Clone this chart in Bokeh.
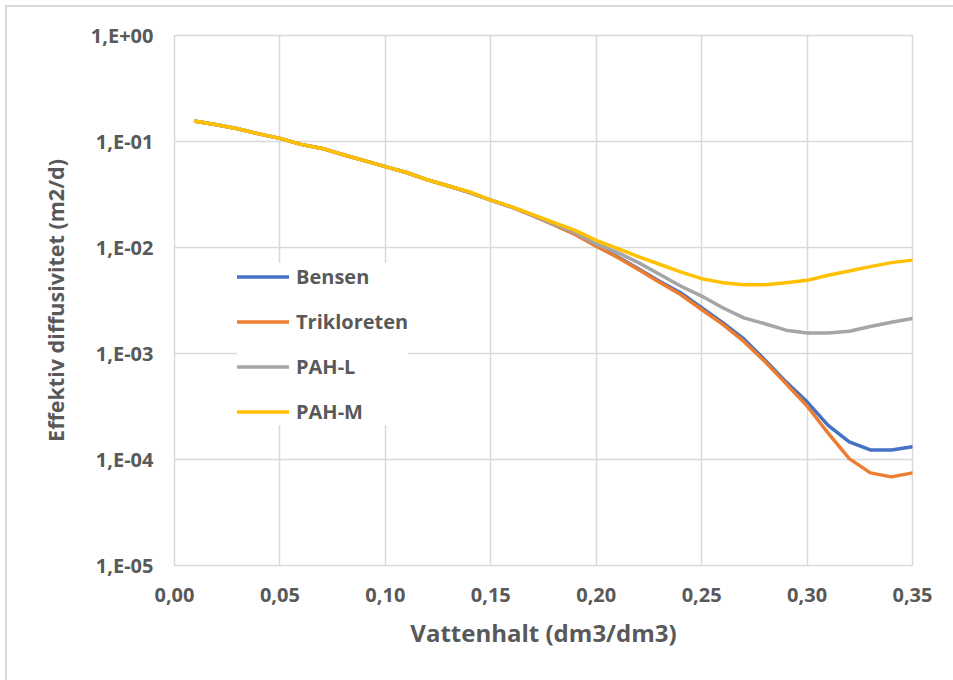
from bokeh.plotting import figure
from bokeh.models import (Range1d, FixedTicker, CustomJSTickFormatter, Legend, LegendItem,
                          InlineStyleSheet)
from bokeh.embed import file_html
from bokeh.resources import INLINE

# ---- data ----
x_vals = [0.01, 0.02, 0.03, 0.04, 0.05, 0.06, 0.07, 0.08, 0.09, 0.10,
          0.11, 0.12, 0.13, 0.14, 0.15, 0.16, 0.17, 0.18, 0.19, 0.20,
          0.21, 0.22, 0.23, 0.24, 0.25, 0.26, 0.27, 0.28, 0.29, 0.30,
          0.31, 0.32, 0.33, 0.34, 0.35]

bensen = [0.155, 0.144, 0.132, 0.118, 0.107, 0.094, 0.086, 0.075, 0.066, 0.058,
          0.051, 0.0435, 0.038, 0.033, 0.028, 0.0240, 0.0200, 0.0164, 0.0134, 0.0104,
          0.0082, 0.0063, 0.0048, 0.00374, 0.0027, 0.00195, 0.00137, 0.00087, 0.00054, 0.00035,
          0.00021, 0.000147, 0.000123, 0.000123, 0.000132]

trikloreten = [0.155, 0.144, 0.132, 0.118, 0.107, 0.094, 0.086, 0.075, 0.066, 0.058,
               0.051, 0.0435, 0.038, 0.033, 0.028, 0.0240, 0.0200, 0.0163, 0.0133, 0.0103,
               0.0081, 0.0062, 0.0047, 0.0036, 0.0026, 0.00188, 0.0013, 0.00084, 0.00052, 0.00032,
               0.000177, 0.000102, 0.0000748, 0.0000686, 0.0000748]

pah_l = [0.155, 0.144, 0.132, 0.118, 0.107, 0.094, 0.086, 0.075, 0.066, 0.058,
         0.051, 0.0435, 0.038, 0.033, 0.028, 0.0240, 0.0201, 0.0166, 0.0138, 0.0108,
         0.0090, 0.0072, 0.0056, 0.00433, 0.00348, 0.0027, 0.00217, 0.00191, 0.00166, 0.00156,
         0.00156, 0.00162, 0.0018, 0.00197, 0.00214]

pah_m = [0.155, 0.144, 0.132, 0.118, 0.107, 0.094, 0.086, 0.075, 0.066, 0.058,
         0.051, 0.0435, 0.038, 0.0335, 0.028, 0.0242, 0.0204, 0.0172, 0.0145, 0.0117,
         0.0098, 0.0082, 0.00695, 0.00588, 0.00508, 0.00466, 0.00446, 0.00446, 0.00466, 0.0049,
         0.00547, 0.0060, 0.0066, 0.0072, 0.0076]

series_names = ["Bensen", "Trikloreten", "PAH-L", "PAH-M"]
series_colors = ["#4472C4", "#ED7D31", "#A5A5A5", "#FFC000"]
series_values = [bensen, trikloreten, pah_l, pah_m]

x_ticks = [0.0, 0.05, 0.10, 0.15, 0.20, 0.25, 0.30, 0.35]
y_ticks = [1e-5, 1e-4, 1e-3, 1e-2, 1e-1, 1.0]

x_title = "Vattenhalt (dm3/dm3)"
y_title = "Effektiv diffusivitet (m2/d)"

FONT = "Open Sans"
TXT = "#595959"
GRID = "#D9D9D9"

p = figure(width=953, height=680, output_backend="svg", toolbar_location=None,
           y_axis_type="log",
           x_range=Range1d(0, 0.35), y_range=Range1d(1e-5, 1.0),
           min_border_left=174, min_border_right=41, min_border_top=35, min_border_bottom=115)

p.background_fill_color = "white"
p.border_fill_color = "white"
p.outline_line_color = GRID
p.outline_line_width = 1.5

renderers = []
for name, col, vals in zip(series_names, series_colors, series_values):
    r = p.line(x_vals, vals, line_color=col, line_width=3.5, line_join="round", line_cap="round")
    renderers.append((name, r))

# axes
p.xaxis.ticker = FixedTicker(ticks=x_ticks)
p.yaxis.ticker = FixedTicker(ticks=y_ticks)
p.xaxis.formatter = CustomJSTickFormatter(code="return tick.toFixed(2).replace('.', ',');")
p.yaxis.formatter = CustomJSTickFormatter(code="""
const e = Math.round(Math.log10(tick));
const s = e < 0 ? '-' : '+';
return '1,E' + s + String(Math.abs(e)).padStart(2, '0');
""")
for ax in (p.xaxis, p.yaxis):
    ax.axis_line_color = None
    ax.major_tick_line_color = None
    ax.minor_tick_line_color = None
    ax.major_tick_out = 0
    ax.major_tick_in = 0
    ax.minor_tick_out = 0
    ax.minor_tick_in = 0
    ax.major_label_text_font = FONT
    ax.major_label_text_font_style = "bold"
    ax.major_label_text_font_size = "20px"
    ax.major_label_text_color = TXT
    ax.axis_label_text_font = FONT
    ax.axis_label_text_font_style = "bold"
    ax.axis_label_text_color = TXT

p.xaxis.axis_label_text_font_size = "24px"
p.yaxis.axis_label_text_font_size = "21.5px"
p.xaxis.axis_label = x_title
p.yaxis.axis_label = y_title
p.xaxis.major_label_standoff = 22
p.yaxis.major_label_standoff = 21
p.xaxis.axis_label_standoff = 11
p.yaxis.axis_label_standoff = 18

p.xgrid.grid_line_color = GRID
p.ygrid.grid_line_color = GRID
p.xgrid.grid_line_width = 1.5
p.ygrid.grid_line_width = 1.5
p.xgrid.ticker = FixedTicker(ticks=x_ticks)
p.ygrid.ticker = FixedTicker(ticks=y_ticks)

legend = Legend(items=[LegendItem(label=n, renderers=[r]) for n, r in renderers],
                location=(63, 140))
legend.background_fill_color = "white"
legend.background_fill_alpha = 1.0
legend.border_line_color = None
legend.label_text_font = FONT
legend.label_text_font_style = "bold"
legend.label_text_font_size = "20px"
legend.label_text_color = TXT
legend.glyph_width = 52
legend.glyph_height = 27
legend.label_height = 27
legend.spacing = 18
legend.padding = 13
legend.margin = 0
legend.label_standoff = 7
p.add_layout(legend, "center")

p.stylesheets = [InlineStyleSheet(css="""
:host { position: relative; overflow: hidden; }
:host::after { content: ''; position: absolute; left: 5px; top: 5px; width: 1000px; height: 1000px;
  border: 2px solid #D9D9D9; box-sizing: border-box; pointer-events: none; }
""")]

open("out.html", "w").write(file_html(p, INLINE))
